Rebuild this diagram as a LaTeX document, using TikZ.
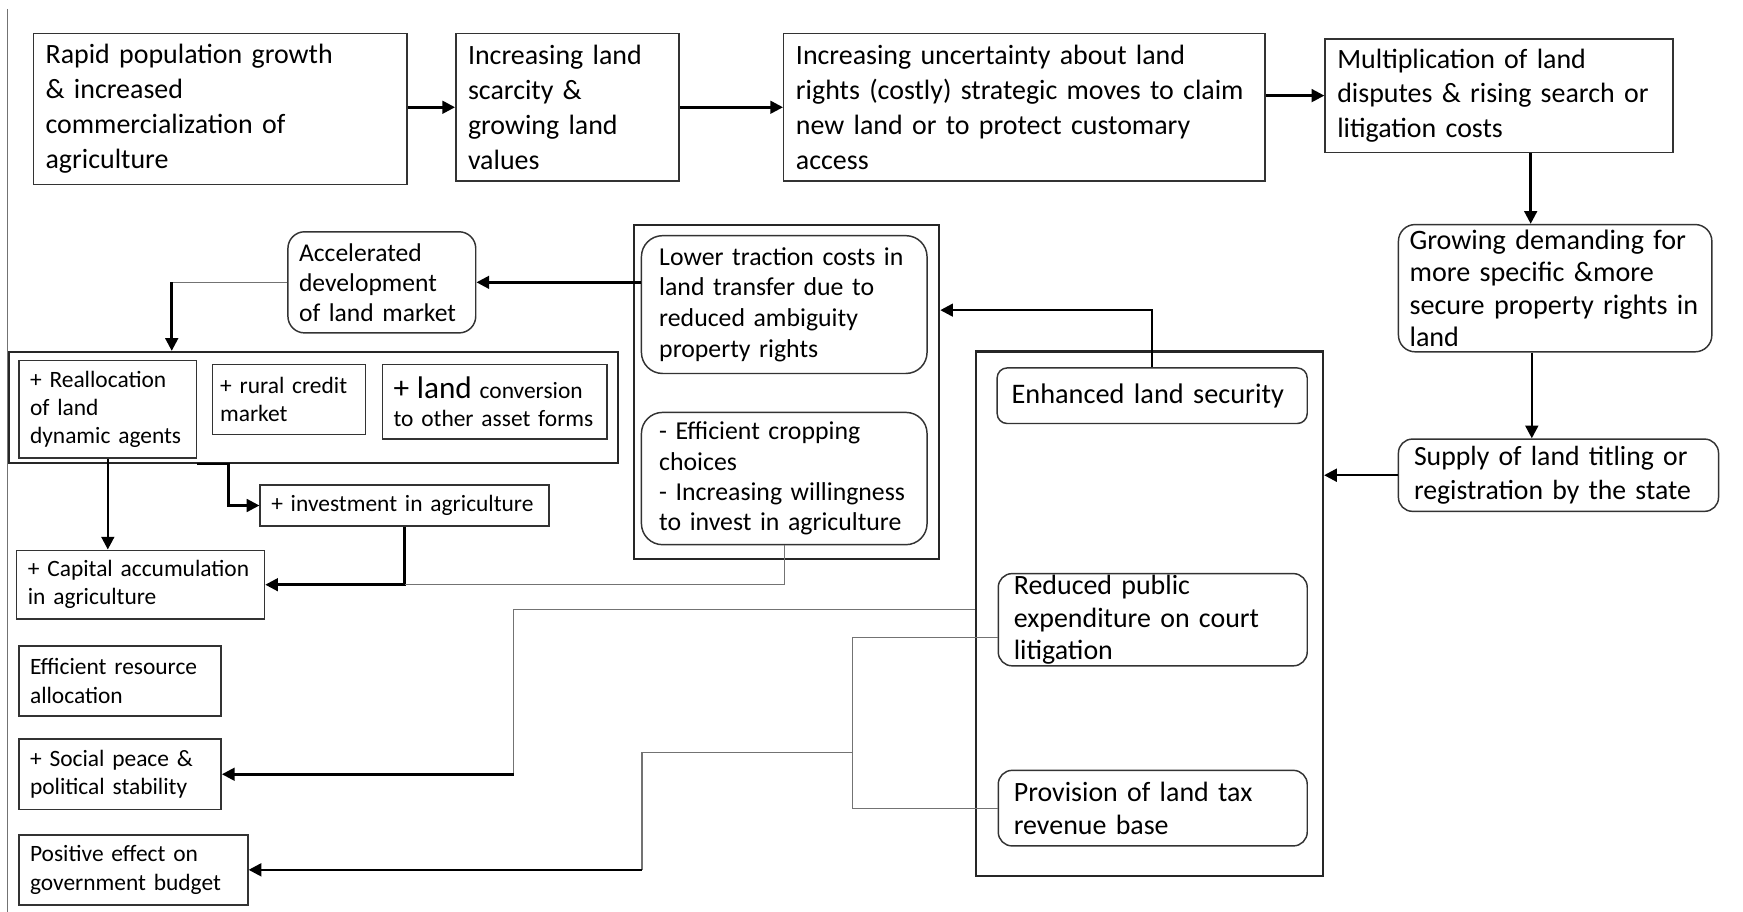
\documentclass[tikz,border=0pt]{standalone}
\usepackage{fontspec}
\setmainfont{Carlito}
\usetikzlibrary{arrows.meta,calc}
\lefthyphenmin=64
\hyphenpenalty=10000
\exhyphenpenalty=10000
\begin{document}
\begin{tikzpicture}[x=0.02cm, y=-0.02cm,
  box/.style={draw=black!80, line width=0.75pt, inner ysep=0pt, align=left},
  rbox/.style={box, rounded corners=0.28cm},
  frame/.style={draw=black!85, inner sep=0pt},
  fa/.style={font=\fontsize{14.3}{18}\selectfont},
  fb/.style={font=\fontsize{14.3}{16.8}\selectfont},
  fc/.style={font=\fontsize{13.2}{15.7}\selectfont},
  fd/.style={font=\fontsize{12}{14.5}\selectfont},
  arr/.style={line width=1.3pt, -{Triangle[length=6.5pt,width=6.5pt]}},
  thinl/.style={line width=0.6pt, draw=black!55}]
\useasboundingbox (0,0) rectangle (1568,820);
\draw[thinl] (7,8) -- (7,820);

% top row
\node[box, fa, inner xsep=0.22cm, minimum width=6.72cm, minimum height=2.72cm, text width=6.28cm] (b1) at (198,98)
  {Rapid population growth\\ \& increased\\ commercialization of\\ agriculture};
\node[box, fa, inner xsep=0.22cm, minimum width=4.02cm, minimum height=2.66cm, text width=3.58cm] (b2) at (510.5,96.5)
  {Increasing land\\ scarcity \&\\ growing land\\ values};
\node[box, fa, inner xsep=0.22cm, minimum width=8.66cm, minimum height=2.66cm, text width=8.22cm] (b3) at (921.5,96.5)
  {Increasing uncertainty about land\\ rights (costly) strategic moves to claim\\ new land or to protect customary\\ access};
\node[box, font=\fontsize{14.3}{17.6}\selectfont, inner xsep=0.22cm, minimum width=6.26cm, minimum height=2.04cm, text width=5.82cm] (b4) at (1348.5,86)
  {Multiplication of land\\ disputes \& rising search or\\ litigation costs};

% right column
\node[rbox, font=\fontsize{14.4}{16.6}\selectfont, rounded corners=0.3cm, inner xsep=0.2cm, minimum width=5.64cm, minimum height=2.29cm, text width=5.24cm] (g) at (1399,259.25)
  {Growing demanding for\\ more specific \&more\\ secure property rights in\\ land};
\node[rbox, font=\fontsize{14.2}{17}\selectfont, rounded corners=0.25cm, inner xsep=0.28cm, minimum width=5.76cm, minimum height=1.30cm, text width=5.2cm] (s) at (1402,427.5)
  {Supply of land titling or\\ registration by the state};

% right big frame
\node[frame, line width=1.3pt, minimum width=6.24cm, minimum height=9.44cm] (r) at (1034,552) {};
\node[rbox, font=\fontsize{14.5}{17}\selectfont, rounded corners=0.18cm, inner xsep=0.26cm, minimum width=5.58cm, minimum height=1.0cm, text width=5.06cm] (e) at (1036.5,356)
  {Enhanced land security};
\node[rbox, fb, rounded corners=0.25cm, inner xsep=0.28cm, minimum width=5.56cm, minimum height=1.66cm, text width=5.0cm] (rd) at (1037,557.5)
  {Reduced public\\ expenditure on court\\ litigation};
\node[rbox, fb, rounded corners=0.25cm, inner xsep=0.28cm, minimum width=5.56cm, minimum height=1.36cm, text width=5.0cm] (p) at (1037,727)
  {Provision of land tax\\ revenue base};

% middle frame
\node[frame, line width=1pt, minimum width=5.5cm, minimum height=6.02cm] (m) at (707.5,352.5) {};
\node[rbox, fc, rounded corners=0.38cm, inner xsep=0.32cm, minimum width=5.14cm, minimum height=2.48cm, text width=4.5cm] (l) at (705.5,274)
  {Lower traction costs in\\ land transfer due to\\ reduced ambiguity\\ property rights};
\node[rbox, font=\fontsize{13.2}{15.5}\selectfont, rounded corners=0.38cm, inner xsep=0.32cm, minimum width=5.14cm, minimum height=2.38cm, text width=4.5cm] (c) at (705.5,430.5)
  {- Efficient cropping\\ choices\\ - Increasing willingness\\ to invest in agriculture};

% accelerated
\node[rbox, font=\fontsize{13.1}{15.3}\selectfont, rounded corners=0.3cm, inner xsep=0.2cm, minimum width=3.38cm, minimum height=1.82cm, text width=2.98cm] (a) at (343.5,254)
  {Accelerated\\ development\\ of land market};

% left group frame
\node[frame, line width=1pt, minimum width=10.96cm, minimum height=2.0cm] (gb) at (282,366.5) {};
\node[box, font=\fontsize{12}{14.3}\selectfont, inner xsep=0.2cm, minimum width=3.2cm, minimum height=1.75cm, text width=2.8cm] (r1) at (97,368.25)
  {+ Reallocation\\ of land\\ dynamic agents};
\node[box, fd, inner xsep=0.14cm, minimum width=2.76cm, minimum height=1.26cm, text width=2.48cm] (r2) at (260,359.5)
  {+ rural credit\\ market};
\node[box, fd, inner xsep=0.2cm, minimum width=4.04cm, minimum height=1.34cm, text width=3.64cm] (r3) at (445,361.5)
  {{\fontsize{16}{16}\selectfont + land} conversion\\ to other asset forms};

\node[box, fd, inner xsep=0.2cm, minimum width=5.2cm, minimum height=0.73cm, text width=4.8cm] (inv) at (364,454.75)
  {+ investment in agriculture};
\node[box, fd, inner xsep=0.2cm, minimum width=4.46cm, minimum height=1.24cm, text width=4.06cm] (cap) at (126.5,526)
  {+ Capital accumulation\\ in agriculture};
\node[box, fd, inner xsep=0.2cm, minimum width=3.64cm, minimum height=1.26cm, text width=3.24cm] (eff) at (108,612.5)
  {Efficient resource\\ allocation};
\node[box, fd, inner xsep=0.2cm, minimum width=3.64cm, minimum height=1.26cm, text width=3.24cm] (soc) at (108,696.5)
  {+ Social peace \&\\ political stability};
\node[box, fd, inner xsep=0.2cm, minimum width=4.12cm, minimum height=1.26cm, text width=3.72cm] (pos) at (120,782.5)
  {Positive effect on\\ government budget};

% helper coordinates
\coordinate (ak) at (154.5,254);
\coordinate (sx) at (462,548);
\coordinate (bj) at (767,677);
\coordinate (px) at (577.5,677);

% top-row arrows
\draw[arr] (b1.east |- b2.west) -- (b2.west);
\draw[arr] (b2.east) -- (b3.west);
\draw[arr] (b4.west -| b3.east) -- (b4.west);
\draw[arr] ([xshift=0.57cm]b4.south) -- ([xshift=0.57cm]b4.south |- g.north);
\draw[arr] ([xshift=-0.42cm]g.south) -- ([xshift=-0.42cm]g.south |- s.north);
\draw[arr] (s.west) -- (s.west -| r.east);

% enhanced -> lower traction
\draw[arr] (e.north) |- ($(m.east |- l.east)+(0,5)$);
% lower traction -> accelerated
\draw[arr] (l.west |- a.east) -- (a.east);
% accelerated -> group
\draw[thinl] (a.west) -- (ak);
\draw[arr] (ak) -- (ak |- gb.north);
% reallocation -> capital, investment
\draw[arr] (r1.south) -- (r1.south |- cap.north);
\draw[arr] (r1.east |- gb.south) -| ([xshift=-0.56cm]inv.west) -- (inv.west);
\draw[arr] (inv.south) |- (cap.east);
\draw[thinl] (c.south) -- (c.south |- cap.east) -- (inv.south |- cap.east);

% right frame -> social peace
\draw[thinl] (r.west |- sx) -- (sx) -- (sx |- soc.east);
\draw[arr] (sx |- soc.east) -- (soc.east);
% reduced & provision -> government budget
\draw[thinl] ([yshift=-0.32cm]rd.west) -| (bj) |- (p.west);
\draw[thinl] (bj) -- (px) -- (px |- pos.east);
\draw[arr] (px |- pos.east) -- (pos.east);
\end{tikzpicture}
\end{document}
